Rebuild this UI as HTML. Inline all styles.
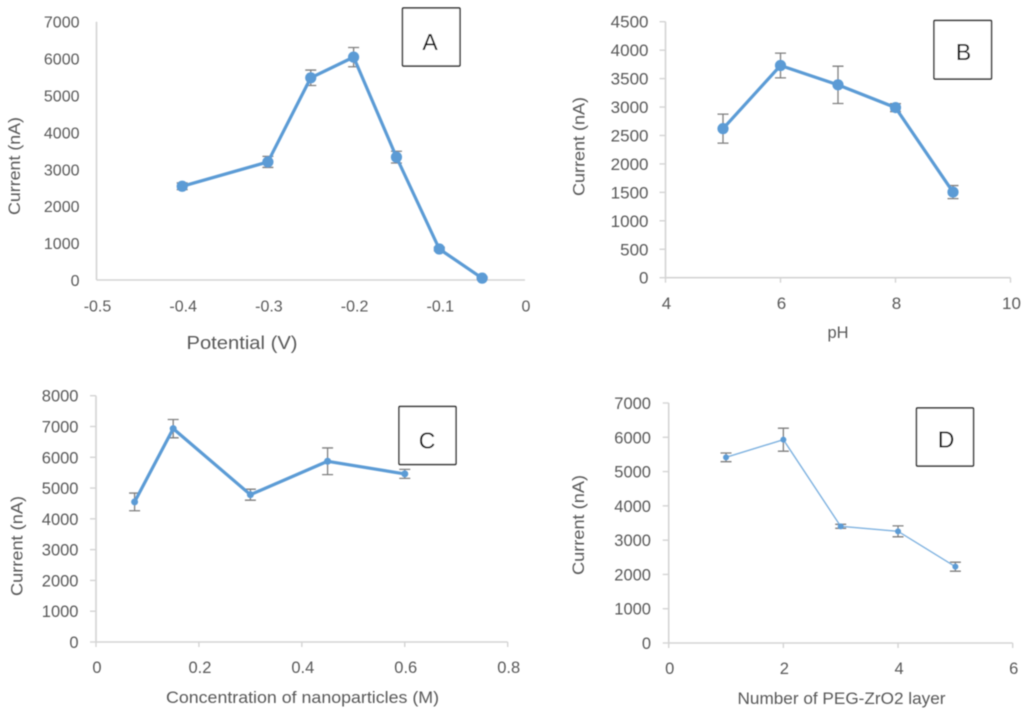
<!DOCTYPE html>
<html lang="en">
<head>
<meta charset="utf-8">
<title>Current response panels A–D</title>
<style>
  html, body { margin: 0; padding: 0; background: #fff; }
  svg { display: block; }
  text { font-family: "Liberation Sans", sans-serif; fill: #595959; }
  .letter { fill: #000; font-size: 23px; text-anchor: middle; }
  .title { font-size: 17px; text-anchor: middle; }
  .box { fill: #fff; stroke: #222; stroke-width: 1.4; }
</style>
</head>
<body>
<svg id="figure" width="1024" height="716" viewBox="0 0 1024 716" xmlns="http://www.w3.org/2000/svg">
  <defs>
    <filter id="soft" filterUnits="userSpaceOnUse" x="0" y="0" width="1024" height="716">
      <feGaussianBlur stdDeviation="0.45"/>
    </filter>
  </defs>
  <rect x="0" y="0" width="1024" height="716" fill="#fff"/>
  <g filter="url(#soft)">
    <g id="panel-a">
      <text class="title" style="font-size:18px" x="242" y="349" textLength="111" lengthAdjust="spacingAndGlyphs">Potential (V)</text>
      <text class="title" transform="translate(20 166) rotate(-90)" textLength="98" lengthAdjust="spacingAndGlyphs">Current (nA)</text>
      <rect class="box" x="402.5" y="8" width="57.5" height="58" rx="1"/>
      <text class="letter" x="430" y="50">A</text>
    </g>
    <g id="panel-b">
      <text class="title" x="838" y="338" textLength="21" lengthAdjust="spacingAndGlyphs">pH</text>
      <text class="title" transform="translate(584.5 146.5) rotate(-90)" textLength="99" lengthAdjust="spacingAndGlyphs">Current (nA)</text>
      <rect class="box" x="934" y="20.5" width="57.5" height="58.5" rx="1"/>
      <text class="letter" x="963.5" y="60">B</text>
    </g>
    <g id="panel-c">
      <text class="title" x="302.5" y="703" textLength="273" lengthAdjust="spacingAndGlyphs">Concentration of nanoparticles (M)</text>
      <text class="title" transform="translate(22.5 546) rotate(-90)" textLength="100" lengthAdjust="spacingAndGlyphs">Current (nA)</text>
      <rect class="box" x="399" y="406.5" width="57" height="58" rx="1"/>
      <text class="letter" x="427" y="448.5">C</text>
    </g>
    <g id="panel-d">
      <text class="title" x="841.5" y="704" textLength="208" lengthAdjust="spacingAndGlyphs">Number of PEG-ZrO2 layer</text>
      <text class="title" transform="translate(584 525) rotate(-90)" textLength="100" lengthAdjust="spacingAndGlyphs">Current (nA)</text>
      <rect class="box" x="916.5" y="408" width="57" height="58" rx="1"/>
      <text class="letter" x="946" y="447.5">D</text>
    </g>
  </g>
</svg>
<script>
// Panel A data
const potentialV = [-0.4, -0.3, -0.25, -0.2, -0.15, -0.1, -0.05];
const currentA = [2540, 3200, 5480, 6040, 3330, 840, 50];
const errorA = [90, 150, 210, 260, 160, 50, 30];
const xTicksA = [-0.5, -0.4, -0.3, -0.2, -0.1, 0];
const yTicksA = [0, 1000, 2000, 3000, 4000, 5000, 6000, 7000];

// Panel B data
const pH = [5, 6, 7, 8, 9];
const currentB = [2620, 3730, 3390, 2990, 1505];
const errorB = [255, 217, 328, 70, 115];
const xTicksB = [4, 6, 8, 10];
const yTicksB = [0, 500, 1000, 1500, 2000, 2500, 3000, 3500, 4000, 4500];

// Panel C data
const concentrationM = [0.075, 0.15, 0.3, 0.45, 0.6];
const currentC = [4550, 6930, 4785, 5870, 5460];
const errorC = [287, 298, 179, 433, 146];
const xTicksC = [0, 0.2, 0.4, 0.6, 0.8];
const yTicksC = [0, 1000, 2000, 3000, 4000, 5000, 6000, 7000, 8000];

// Panel D data
const layers = [1, 2, 3, 4, 5];
const currentD = [5415, 5930, 3403, 3257, 2226];
const errorD = [126, 335, 58, 160, 131];
const xTicksD = [0, 2, 4, 6];
const yTicksD = [0, 1000, 2000, 3000, 4000, 5000, 6000, 7000];

const SVG_NS = 'http://www.w3.org/2000/svg';

function make(tag, parent, attrs) {
  const node = document.createElementNS(SVG_NS, tag);
  for (const key in attrs) node.setAttribute(key, attrs[key]);
  parent.appendChild(node);
  return node;
}

function linearScale(domainMin, domainMax, rangeMin, rangeMax) {
  return function (v) {
    return rangeMin + (v - domainMin) / (domainMax - domainMin) * (rangeMax - rangeMin);
  };
}

function drawPanel(cfg) {
  const root = document.getElementById(cfg.id);
  const xs = cfg.xTicks;
  const ys = cfg.yTicks;
  const X = linearScale(xs[0], xs[xs.length - 1], cfg.left, cfg.right);
  const Y = linearScale(ys[0], ys[ys.length - 1], cfg.bottom, cfg.top);
  const tag = cfg.suffix;

  const xAxis = make('line', root, { x1: cfg.left, x2: cfg.right, y1: cfg.bottom, y2: cfg.bottom, stroke: '#d4d4d4', 'stroke-width': 1.6 });
  
  

  const yAxis = make('line', root, { x1: cfg.left, x2: cfg.left, y1: cfg.top, y2: cfg.bottom, stroke: '#d4d4d4', 'stroke-width': 1.6 });
  
  

  ys.forEach(function (v) {
    const py = Y(v);
    if (cfg.ticks) {
      const mark = make('line', root, { x1: cfg.left - 6, x2: cfg.left, y1: py, y2: py, stroke: '#d4d4d4', 'stroke-width': 1.4 });
      
      
    }
    const label = make('text', root, { x: cfg.yLabelX, y: py + 6, 'text-anchor': 'end', 'font-size': cfg.tickSize });
    
    
    label.textContent = String(v);
  });

  xs.forEach(function (v) {
    const px = X(v);
    if (cfg.ticks) {
      const mark = make('line', root, { x1: px, x2: px, y1: cfg.bottom, y2: cfg.bottom + 5, stroke: '#d4d4d4', 'stroke-width': 1.4 });
      
      
    }
    const label = make('text', root, { x: px + 1, y: cfg.xLabelY, 'text-anchor': 'middle', 'font-size': cfg.tickSize });
    
    
    label.textContent = String(v);
  });

  cfg.x.forEach(function (v, i) {
    const px = X(v);
    const hi = Y(cfg.y[i] + cfg.err[i]);
    const lo = Y(cfg.y[i] - cfg.err[i]);
    const d = 'M' + px + ' ' + hi + 'V' + lo +
      'M' + (px - 5.5) + ' ' + hi + 'H' + (px + 5.5) +
      'M' + (px - 5.5) + ' ' + lo + 'H' + (px + 5.5);
    const bar = make('path', root, { d: d, stroke: '#7f7f7f', 'stroke-width': 1.3, fill: 'none' });
    
    
  });

  const pts = cfg.x.map(function (v, i) { return X(v) + ',' + Y(cfg.y[i]); }).join(' ');
  const series = make('polyline', root, { points: pts, fill: 'none', stroke: cfg.lineColor, 'stroke-width': cfg.lineWidth, 'stroke-linejoin': 'round', 'stroke-linecap': 'round' });
  
  

  cfg.x.forEach(function (v, i) {
    const dot = make('circle', root, { cx: X(v), cy: Y(cfg.y[i]), r: cfg.markerR, fill: '#5b9bd5' });
    
    
  });

  // keep the panel label boxes above the plot marks
  root.querySelectorAll('.box, .letter').forEach(function (n) { root.appendChild(n); });
}

drawPanel({
  id: 'panel-a', suffix: 'a', x: potentialV, y: currentA, err: errorA, xTicks: xTicksA, yTicks: yTicksA,
  left: 96.5, right: 525, top: 21.7, bottom: 280, yLabelX: 79.5, xLabelY: 311.5, tickSize: 16,
  ticks: false, lineWidth: 3.2, lineColor: '#5b9bd5', markerR: 5.6
});
drawPanel({
  id: 'panel-b', suffix: 'b', x: pH, y: currentB, err: errorB, xTicks: xTicksB, yTicks: yTicksB,
  left: 665.5, right: 1010.5, top: 21.7, bottom: 277.7, yLabelX: 648.5, xLabelY: 309, tickSize: 17,
  ticks: true, lineWidth: 3.2, lineColor: '#5b9bd5', markerR: 5.6
});
drawPanel({
  id: 'panel-c', suffix: 'c', x: concentrationM, y: currentC, err: errorC, xTicks: xTicksC, yTicks: yTicksC,
  left: 96, right: 507.7, top: 395.7, bottom: 642, yLabelX: 78.5, xLabelY: 673, tickSize: 16.5,
  ticks: true, lineWidth: 3.2, lineColor: '#5b9bd5', markerR: 3.5
});
drawPanel({
  id: 'panel-d', suffix: 'd', x: layers, y: currentD, err: errorD, xTicks: xTicksD, yTicks: yTicksD,
  left: 668.7, right: 1012.7, top: 403, bottom: 643, yLabelX: 651, xLabelY: 674, tickSize: 16.5,
  ticks: true, lineWidth: 1.4, lineColor: '#7fb2e0', markerR: 3
});
</script>
</body>
</html>
